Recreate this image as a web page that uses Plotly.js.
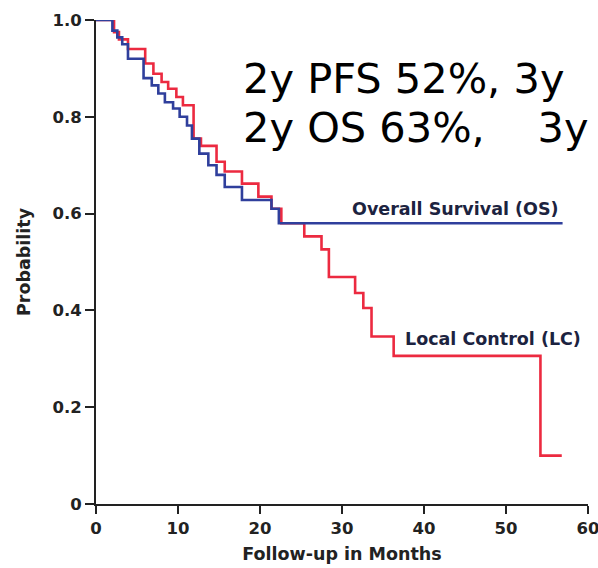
<!DOCTYPE html>
<html>
<head>
<meta charset="utf-8">
<script src="https://cdn.plot.ly/plotly-3.0.1.min.js"></script>
<style>html,body{margin:0;padding:0;background:#fff;}#chart{width:598px;height:568px;}</style>
</head>
<body>
<div id="chart"></div>
<script>
// Overall Survival (OS) — Kaplan-Meier step points (months, probability)
const osMonths = [0, 2.0, 2.6, 3.2, 3.9, 5.8, 6.8, 7.6, 8.4, 9.4, 10.2, 11.1, 11.7, 12.6, 13.7, 14.7, 15.7, 17.8, 21.4, 22.3, 56.9];
const osProb   = [1.0, 0.978, 0.964, 0.95, 0.92, 0.88, 0.865, 0.848, 0.83, 0.817, 0.80, 0.782, 0.755, 0.724, 0.70, 0.68, 0.655, 0.628, 0.61, 0.58, 0.58];

// Local Control (LC)
const lcMonths = [0, 2.2, 2.8, 3.9, 6.0, 7.0, 8.0, 8.8, 9.8, 10.6, 11.9, 12.8, 14.7, 15.7, 17.8, 19.8, 21.4, 22.6, 25.4, 27.5, 28.4, 31.6, 32.6, 33.6, 36.3, 54.2, 56.8];
const lcProb   = [1.0, 0.975, 0.96, 0.94, 0.91, 0.889, 0.872, 0.858, 0.841, 0.824, 0.755, 0.74, 0.707, 0.687, 0.662, 0.635, 0.61, 0.58, 0.553, 0.526, 0.469, 0.436, 0.405, 0.346, 0.306, 0.10, 0.10];

const xTicks = [0, 10, 20, 30, 40, 50, 60];
const yTicks = [0, 0.2, 0.4, 0.6, 0.8, 1.0];
const yTickLabels = ['0', '0.2', '0.4', '0.6', '0.8', '1.0'];

const curveLabels = ['Overall Survival (OS)', 'Local Control (LC)'];
const statLines = ['2y PFS 52%, 3y', '2y OS 63%,\u00a0\u00a0\u00a0\u00a03y'];

const BOLD = 'DejaVu Sans, Arial, sans-serif';
const REG = 'DejaVu Sans, Arial, sans-serif';

const traces = [
  {x: lcMonths, y: lcProb, mode: 'lines', line: {shape: 'hv', color: '#ec2a40', width: 2.6}, cliponaxis: false, hoverinfo: 'skip'},
  {x: osMonths, y: osProb, mode: 'lines', line: {shape: 'hv', color: '#2f3f9c', width: 2.6}, cliponaxis: false, hoverinfo: 'skip'}
];

const layout = {
  width: 598, height: 568,
  margin: {l: 96, r: 10, t: 20, b: 64},
  paper_bgcolor: '#ffffff', plot_bgcolor: '#ffffff',
  showlegend: false,
  font: {family: BOLD, color: '#222'},
  xaxis: {
    range: [0, 60], tickvals: xTicks, ticktext: xTicks.map(String),
    showgrid: false, zeroline: false, showline: true, linecolor: '#222', linewidth: 2,
    ticks: 'outside', ticklen: 8, tickwidth: 2, tickcolor: '#222',
    ticklabeloverflow: 'allow',
    tickfont: {family: BOLD, size: 16.5, color: '#222', weight: 'bold'},
    title: {text: '<b>Follow-up in Months</b>', font: {family: BOLD, size: 17.5, color: '#222'}, standoff: 11}
  },
  yaxis: {
    range: [0, 1], tickvals: yTicks, ticktext: yTickLabels,
    showgrid: false, zeroline: false, showline: true, linecolor: '#222', linewidth: 2,
    ticks: 'outside', ticklen: 9, tickwidth: 2, tickcolor: '#222',
    tickfont: {family: BOLD, size: 16.5, color: '#222', weight: 'bold'},
    title: {text: '<b>Probability</b>', font: {family: BOLD, size: 17.5, color: '#222'}, standoff: 17}
  },
  annotations: [
    {x: 43.9, y: 0.61, xref: 'x', yref: 'y', text: '<b>' + curveLabels[0] + '</b>', showarrow: false,
     font: {family: BOLD, size: 17.5, color: '#1c2340'}, xanchor: 'center', yanchor: 'middle'},
    {x: 48.4, y: 0.341, xref: 'x', yref: 'y', text: '<b>' + curveLabels[1] + '</b>', showarrow: false,
     font: {family: BOLD, size: 17.5, color: '#1c2340'}, xanchor: 'center', yanchor: 'middle'},
    {x: 0, y: 0, xref: 'paper', yref: 'paper', text: statLines[0], showarrow: false,
     font: {family: REG, size: 41.5, color: '#000'}, xanchor: 'left', yanchor: 'middle'},
    {x: 0, y: 0, xref: 'paper', yref: 'paper', text: statLines[1], showarrow: false,
     font: {family: REG, size: 41.5, color: '#000'}, xanchor: 'left', yanchor: 'middle'}
  ]
};

// anchor the big statistic text in pixels, converted to paper coordinates
const plotW = 598 - 96 - 10, plotH = 568 - 20 - 64;
layout.annotations[2].x = (241 - 96) / plotW; layout.annotations[2].y = 1 - (78 - 20) / plotH;
layout.annotations[3].x = (241 - 96) / plotW; layout.annotations[3].y = 1 - (127 - 20) / plotH;

Plotly.newPlot('chart', traces, layout, {displayModeBar: false, staticPlot: true});
</script>
</body>
</html>
